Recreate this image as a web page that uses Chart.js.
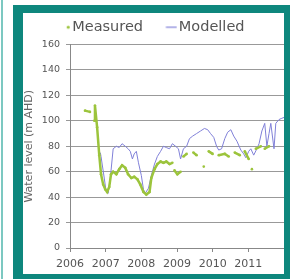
<!DOCTYPE html>
<html>
<head>
<meta charset="utf-8">
<script src="https://cdn.jsdelivr.net/npm/chart.js@4"></script>
<style>
  html, body { margin: 0; padding: 0; background: #fff; }
  #wrap { position: relative; width: 290px; height: 279px; overflow: hidden; }
  #chart { position: absolute; left: 0; top: 0; }
  .frame { position: absolute; background: #0e877d; }
  .edge { position: absolute; left: 1px; top: 0; width: 2px; height: 279px; background: #7cc8c1; }
</style>
</head>
<body>
<div id="wrap">
  <canvas id="chart" width="290" height="279"></canvas>
  <div class="edge"></div>
  <div class="frame" style="left:13px;top:5px;width:277px;height:8px"></div>
  <div class="frame" style="left:13px;top:5px;width:10px;height:274px"></div>
  <div class="frame" style="left:284px;top:5px;width:6px;height:274px"></div>
  <div class="frame" style="left:13px;top:274px;width:277px;height:5px"></div>
</div>
<script>
// tick labels on the year axis
const yearLabels = ['2006', '2007', '2008', '2009', '2010', '2011'];

// measured water level (m AHD), null = gap between readings
const measuredYears = [
    2006.42, 2006.56, 2006.62, 2006.68, 2006.70, 2006.76, 2006.82, 2006.87, 2006.93, 2006.99,
    2007.04, 2007.10, 2007.15, 2007.21, 2007.30, 2007.38, 2007.46, 2007.55, 2007.63, 2007.72,
    2007.80, 2007.89, 2007.97, 2008.06, 2008.14, 2008.23, 2008.28, 2008.37, 2008.45, 2008.54,
    2008.62, 2008.70, 2008.79, 2008.87, 2008.90, 2008.93, 2009.01, 2009.10, 2009.14, 2009.18,
    2009.27, 2009.36, 2009.46, 2009.55, 2009.65, 2009.75, 2009.82, 2009.89, 2010.00, 2010.08,
    2010.17, 2010.34, 2010.45, 2010.54, 2010.62, 2010.76, 2010.83, 2010.90, 2011.01, 2011.05,
    2011.10, 2011.15, 2011.21, 2011.35, 2011.40, 2011.46, 2011.58,
];
const measuredLevels = [
    108, 107, null, 100, 112, 95, 73, 58, 50, 46,
    44, 48, 58, 60, 58, 62, 65, 63, 58, 55,
    56, 54, 50, 44, 42, 44, 55, 62, 66, 68,
    67, 68, 66, 67, null, 61, 58, 60, null, 72,
    74, null, 75, 73, null, 64, null, 76, 74, null,
    73, 74, 72, null, 75, 73, null, 76, 70, null,
    62, null, 78, 80, null, 78, 80,
];

// modelled water level (m AHD)
const modelledYears = [
    2006.85, 2006.87, 2006.96, 2007.01, 2007.07, 2007.13, 2007.21, 2007.30, 2007.38, 2007.46,
    2007.55, 2007.63, 2007.69, 2007.75, 2007.80, 2007.86, 2007.92, 2008.00, 2008.06, 2008.11,
    2008.20, 2008.28, 2008.37, 2008.45, 2008.54, 2008.62, 2008.70, 2008.79, 2008.87, 2008.96,
    2009.04, 2009.10, 2009.18, 2009.27, 2009.35, 2009.44, 2009.55, 2009.66, 2009.77, 2009.86,
    2009.94, 2010.03, 2010.11, 2010.17, 2010.25, 2010.34, 2010.42, 2010.51, 2010.59, 2010.68,
    2010.79, 2010.87, 2010.93, 2011.01, 2011.07, 2011.15, 2011.24, 2011.30, 2011.38, 2011.46,
    2011.52, 2011.58, 2011.63, 2011.72, 2011.77, 2011.86, 2011.94, 2012.03,
];
const modelledLevels = [
    75, 72, 55, 45, 43, 55, 78, 80, 79, 82,
    80, 78, 76, 70, 74, 76, 67, 57, 46, 43,
    47, 57, 66, 72, 76, 80, 79, 78, 82, 80,
    78, 70, 78, 80, 86, 88, 90, 92, 94, 93,
    90, 87, 80, 77, 78, 86, 91, 93, 88, 84,
    77, 74, 71, 76, 78, 73, 78, 82, 92, 98,
    80, 90, 98, 78, 98, 101, 102, 103,
];

const greenCol = '#9cc43c';
const blueCol = '#8080d8';

// small legend markers: a dot for Measured, a dash for Modelled
function makeMarker(kind) {
    const c = document.createElement('canvas');
    c.width = 26;
    c.height = 6;
    const g = c.getContext('2d');
    if (kind === 'dot') {
        g.fillStyle = greenCol;
        g.beginPath();
        g.arc(23.5, 3, 1.6, 0, Math.PI * 2);
        g.fill();
    } else {
        g.strokeStyle = blueCol;
        g.lineWidth = 1.2;
        g.beginPath();
        g.moveTo(14.5, 3);
        g.lineTo(25.5, 3);
        g.stroke();
    }
    return c;
}
const markers = [makeMarker('dot'), makeMarker('dash')];

// fix legend height and nudge it sideways
const legendTweak = {
    id: 'legendTweak',
    beforeLayout(chart) {
        const lg = chart.legend;
        if (lg && !lg._tweaked) {
            lg.afterFit = function () { this.height = 37; };
            lg._tweaked = true;
        }
    },
    afterLayout(chart) {
        chart.legend.left -= 6;
        chart.legend.right -= 6;
    },
};

function createChart() {
    const ctx = document.getElementById('chart').getContext('2d');
    new Chart(ctx, {
        type: 'line',
        data: {
            datasets: [
                {
                    label: 'Measured',
                    data: measuredYears.map((x, i) => ({ x: x, y: measuredLevels[i] })),
                    borderColor: greenCol,
                    backgroundColor: greenCol,
                    borderWidth: 2.5,
                    pointRadius: 1.3,
                    pointBorderWidth: 0,
                    spanGaps: false,
                },
                {
                    label: 'Modelled',
                    data: modelledYears.map((x, i) => ({ x: x, y: modelledLevels[i] })),
                    borderColor: blueCol,
                    backgroundColor: blueCol,
                    borderWidth: 1,
                    pointRadius: 0,
                },
            ],
        },
        options: {
            responsive: false,
            animation: false,
            layout: { padding: { left: 23, right: 6, top: 6, bottom: 5 } },
            plugins: {
                legend: {
                    labels: {
                        usePointStyle: true,
                        boxWidth: 17,
                        padding: 14,
                        color: '#555',
                        font: { family: 'DejaVu Sans', size: 14.5 },
                        generateLabels: function (chart) {
                            const items = Chart.defaults.plugins.legend.labels.generateLabels(chart);
                            items.forEach((it, i) => { it.pointStyle = markers[i]; });
                            return items;
                        },
                    },
                },
                tooltip: { enabled: false },
            },
            scales: {
                x: {
                    type: 'linear',
                    min: 2006,
                    max: 2012,
                    afterFit: s => { s.height = 26; },
                    border: { color: '#888' },
                    grid: { drawOnChartArea: false, tickLength: 4, color: '#888' },
                    ticks: {
                        stepSize: 1,
                        autoSkip: false,
                        maxRotation: 0,
                        padding: 6,
                        color: '#555',
                        font: { family: 'DejaVu Sans', size: 11 },
                        callback: v => yearLabels[Math.round(v) - 2006] || '',
                    },
                },
                y: {
                    min: 0,
                    max: 160,
                    afterFit: s => { s.width = 47; },
                    border: { color: '#888' },
                    grid: { color: '#999', tickLength: 4 },
                    title: {
                        display: true,
                        text: 'Water level (m AHD)',
                        color: '#666',
                        padding: 0,
                        font: { family: 'DejaVu Sans', size: 11 },
                    },
                    ticks: {
                        stepSize: 20,
                        padding: 6,
                        color: '#555',
                        font: { family: 'DejaVu Sans', size: 9.5 },
                    },
                },
            },
        },
        plugins: [legendTweak],
    });
}

document.addEventListener('DOMContentLoaded', createChart);
</script>
</body>
</html>
